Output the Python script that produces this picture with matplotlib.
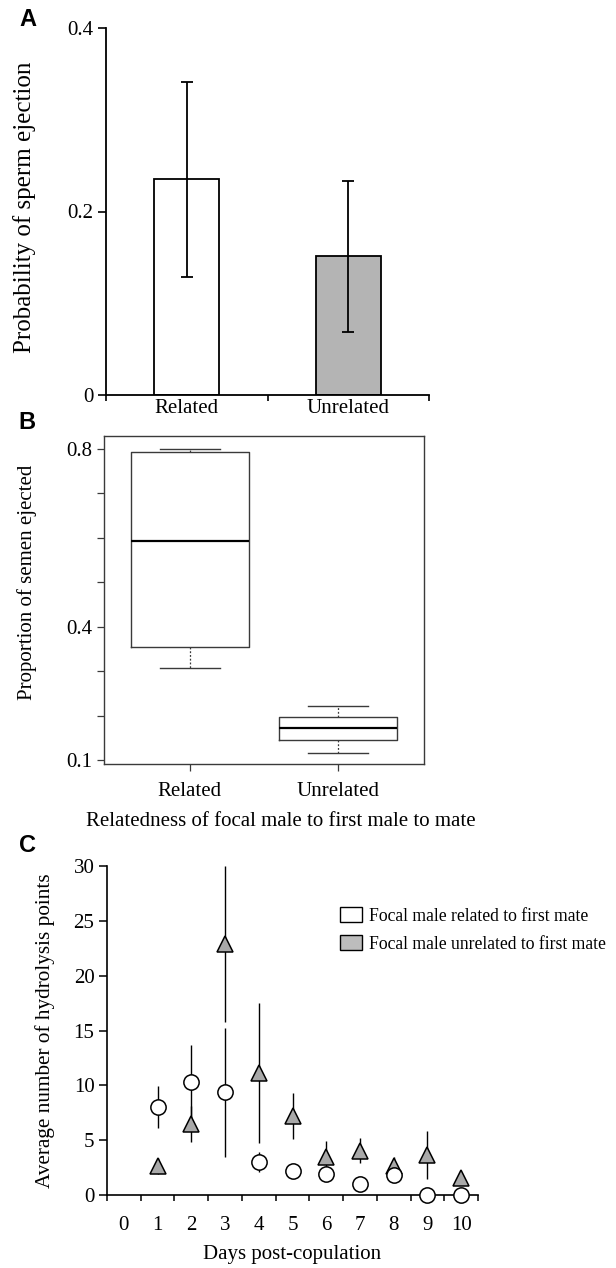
import numpy as np
import matplotlib
matplotlib.use("Agg")
import matplotlib.pyplot as plt
from matplotlib.patches import Patch

plt.rcParams['font.family'] = ['Liberation Serif', 'DejaVu Serif']

# ---------------- data ----------------
groups = ["Related", "Unrelated"]

# Panel A: probability of sperm ejection (mean +/- SE)
prob_mean = [0.235, 0.151]
prob_se = [0.106, 0.082]

# Panel B: proportion of semen ejected (box stats)
box_whislo = [0.308, 0.117]
box_q1 = [0.354, 0.145]
box_med = [0.592, 0.173]
box_q3 = [0.792, 0.197]
box_whishi = [0.800, 0.221]

# Panel C: hydrolysis points by day
day_labels = ["0", "1", "2", "3", "4", "5", "6", "7", "8", "9", "10"]
days = [1, 2, 3, 4, 5, 6, 7, 8, 9, 10]
related_mean = [8.05, 10.33, 9.36, 3.04, 2.22, 1.91, 1.00, 1.79, 0.0, 0.0]
related_se = [1.92, 3.35, 5.85, 0.90, 0.30, 0.30, 0.20, 0.30, 0.0, 0.0]
unrelated_mean = [2.65, 6.47, 22.9, 11.12, 7.23, 3.50, 4.04, 2.68, 3.65, 1.52]
unrelated_se = [0.70, 1.60, 7.10, 6.42, 2.10, 1.45, 1.14, 0.75, 2.20, 0.30]

legend_labels = ["Focal male related to first mate",
                 "Focal male unrelated to first mate"]

# ---------------- figure ----------------
W, H = 616, 1268
fig = plt.figure(figsize=(W / 100, H / 100), dpi=100)


def ax_rect(left, top, right, bottom):
    return [left / W, 1 - bottom / H, (right - left) / W, (bottom - top) / H]


def ftext(x, y, s, **kw):
    return fig.text(x / W, 1 - y / H, s, **kw)


FS = 15

# ---------------- Panel A ----------------
axA = fig.add_axes(ax_rect(106, 28, 429, 395))
xA = np.arange(len(groups))
axA.bar(xA, prob_mean, width=0.4, color=['white', '#b4b4b4'],
        edgecolor='black', linewidth=1.3, zorder=2)
axA.errorbar(xA, prob_mean, yerr=prob_se, fmt='none', ecolor='black',
             elinewidth=1.3, capsize=4, capthick=1.3, zorder=3)
axA.set_xlim(-0.5, 1.5)
axA.set_ylim(0, 0.4)
axA.set_yticks([0, 0.2, 0.4])
axA.set_yticklabels(["0", "0.2", "0.4"], fontsize=FS)
axA.set_xticks([-0.5, 0.5, 1.5])
axA.set_xticklabels([])
axA.set_xticks(xA, minor=True)
axA.set_xticklabels(groups, minor=True, fontsize=FS)
axA.tick_params(axis='x', which='minor', length=0, pad=3)
axA.tick_params(axis='x', which='major', length=4, width=1.2, direction='out')
axA.tick_params(axis='y', length=6, width=1.2, direction='out', pad=3)
for s in ['top', 'right']:
    axA.spines[s].set_visible(False)
for s in ['left', 'bottom']:
    axA.spines[s].set_linewidth(1.3)
ftext(25, 207, "Probability of sperm ejection", rotation=90,
      ha='center', va='center', fontsize=18)

# ---------------- Panel B ----------------
axB = fig.add_axes(ax_rect(104, 436, 424, 764))
stats = []
for i in range(len(groups)):
    stats.append(dict(med=box_med[i], q1=box_q1[i], q3=box_q3[i],
                      whislo=box_whislo[i], whishi=box_whishi[i],
                      fliers=[], label=groups[i]))
axB.bxp(stats, positions=[1, 2], widths=0.8, showfliers=False,
        boxprops=dict(color='#3a3a3a', linewidth=1.0),
        medianprops=dict(color='black', linewidth=1.6),
        whiskerprops=dict(color='#3a3a3a', linewidth=0.9, linestyle=(0, (1.5, 1.5))),
        capprops=dict(color='#3a3a3a', linewidth=1.0),
        capwidths=0.4)
axB.set_xlim(0.42, 2.58)
axB.set_ylim(0.0914, 0.8286)
axB.set_yticks(np.arange(0.1, 0.81, 0.1))
axB.set_yticklabels(["0.1", "", "", "0.4", "", "", "", "0.8"], fontsize=FS)
axB.set_xticks([1, 2])
axB.set_xticklabels(groups, fontsize=FS)
axB.tick_params(axis='both', length=5, width=0.9, color='#3a3a3a', direction='out')
axB.tick_params(axis='x', pad=8)
for s in axB.spines.values():
    s.set_linewidth(1.0)
    s.set_color('#3a3a3a')
ftext(27, 582, "Proportion of semen ejected", rotation=90,
      ha='center', va='center', fontsize=15)
ftext(281, 822, "Relatedness of focal male to first male to mate",
      ha='center', va='center', fontsize=FS)

# ---------------- Panel C ----------------
axC = fig.add_axes(ax_rect(107, 866, 478, 1195))
axC.errorbar(days, unrelated_mean, yerr=unrelated_se, fmt='none',
             ecolor='black', elinewidth=1.0, zorder=2, clip_on=True)
axC.errorbar(days, related_mean, yerr=related_se, fmt='none',
             ecolor='black', elinewidth=1.0, zorder=2, clip_on=True)
axC.plot(days, unrelated_mean, linestyle='none', marker='^', markersize=11,
         markerfacecolor='#a9a9a9', markeredgecolor='black', markeredgewidth=1.1,
         zorder=3, clip_on=False)
axC.plot(days, related_mean, linestyle='none', marker='o', markersize=11,
         markerfacecolor='white', markeredgecolor='black', markeredgewidth=1.1,
         zorder=4, clip_on=False)
axC.set_xlim(-0.5, 10.5)
axC.set_ylim(0, 30)
axC.set_yticks(np.arange(0, 31, 5))
axC.set_yticklabels([str(v) for v in range(0, 31, 5)], fontsize=FS)
axC.set_xticks(np.arange(-0.5, 10.6, 1))
axC.set_xticklabels([])
axC.set_xticks(np.arange(0, 11), minor=True)
axC.set_xticklabels(day_labels, minor=True, fontsize=FS)
axC.tick_params(axis='x', which='minor', length=0, pad=15)
axC.tick_params(axis='x', which='major', length=4, width=1.1, direction='out')
axC.tick_params(axis='y', length=6, width=1.1, direction='out', pad=3)
for s in ['top', 'right']:
    axC.spines[s].set_visible(False)
for s in ['left', 'bottom']:
    axC.spines[s].set_linewidth(1.2)
ftext(45, 1031, "Average number of hydrolysis points", rotation=90,
      ha='center', va='center', fontsize=15.3)
ftext(292, 1255, "Days post-copulation", ha='center', va='center', fontsize=FS)

handles = [Patch(facecolor='white', edgecolor='black', linewidth=1.0),
           Patch(facecolor='#bdbdbd', edgecolor='black', linewidth=1.0)]
fig.legend(handles, legend_labels, loc='upper left',
           bbox_to_anchor=(340 / W, 1 - 907 / H), frameon=False,
           fontsize=12.7, borderpad=0, borderaxespad=0,
           handlelength=1.25, handleheight=0.95, handletextpad=0.4,
           labelspacing=0.6)

# Panel letters
for letter, (x, y) in zip("ABC", [(28, 19), (27, 423), (28, 845)]):
    ftext(x, y, letter, fontsize=17, fontweight='bold',
          family='Liberation Sans', ha='center', va='center')

fig.savefig("out.png", dpi=100)
